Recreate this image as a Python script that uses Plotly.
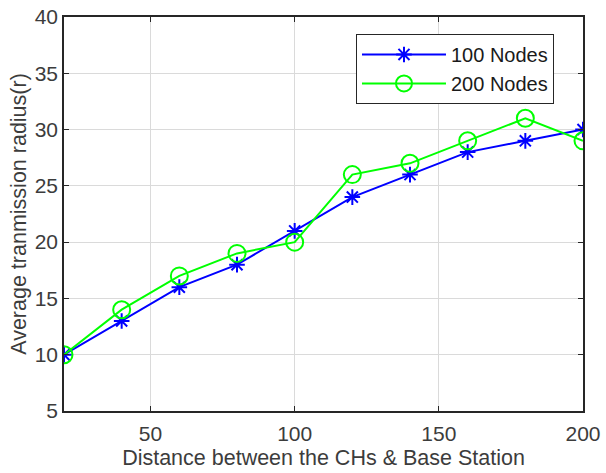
import plotly.graph_objects as go

distance = [20, 40, 60, 80, 100, 120, 140, 160, 180, 200]
nodes100 = [10, 13, 16, 18, 21, 24, 26, 28, 29, 30]
nodes200 = [10, 14, 17, 19, 20, 26, 27, 29, 31, 29]
x_ticks = [50, 100, 150, 200]
y_ticks = [5, 10, 15, 20, 25, 30, 35, 40]

FONT = "Liberation Sans, Arial, sans-serif"

fig = go.Figure()
fig.add_trace(go.Scatter(
    x=distance, y=nodes100, name="100 Nodes", mode="lines+markers",
    line=dict(color="#0000ff", width=2),
    marker=dict(symbol="asterisk-open", size=13, line=dict(color="#0000ff", width=2)),
))
fig.add_trace(go.Scatter(
    x=distance, y=nodes200, name="200 Nodes", mode="lines+markers",
    line=dict(color="#00ff00", width=2),
    marker=dict(symbol="circle-open", size=17, line=dict(color="#00ff00", width=2)),
))

axis_common = dict(
    showline=True, linecolor="#262626", linewidth=1.5, mirror="ticks",
    ticks="inside", ticklen=5, tickcolor="#262626",
    showgrid=True, gridcolor="#dadada", gridwidth=1, zeroline=False,
    tickfont=dict(family=FONT, size=21, color="#3c3c3c"),
    automargin=False,
)
fig.update_xaxes(range=[20, 200], tickvals=x_ticks, ticklabelstandoff=3,
                 title=dict(text="Distance between the CHs & Base Station", standoff=6,
                            font=dict(family=FONT, size=21.5, color="#3c3c3c")),
                 **axis_common)
fig.update_yaxes(range=[5, 40], tickvals=y_ticks, ticklabelstandoff=0,
                 title=dict(text="Average tranmission radius(r)", standoff=2,
                            font=dict(family=FONT, size=21.5, color="#3c3c3c")),
                 **axis_common)

fig.update_layout(
    width=606, height=473,
    margin=dict(l=64, r=23, t=17, b=62),
    paper_bgcolor="white", plot_bgcolor="white",
    legend=dict(x=0.5626, y=0.957, xanchor="left", yanchor="top",
                bgcolor="white", bordercolor="#262626", borderwidth=1,
                font=dict(family=FONT, size=20, color="#1a1a1a"),
                itemwidth=84, tracegroupgap=0),
    showlegend=True,
)
fig.write_html("out.html")
